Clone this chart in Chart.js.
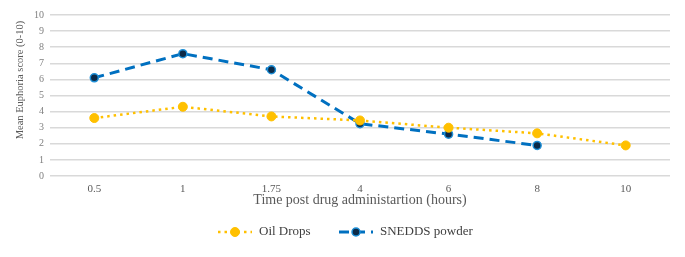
<!DOCTYPE html>
<html>
<head>
<meta charset="utf-8">
<script src="https://cdn.jsdelivr.net/npm/chart.js@4"></script>
<style>
  html, body { margin: 0; padding: 0; background: #fff; }
  #wrap { width: 685px; height: 257px; position: relative; }
</style>
</head>
<body>
<div id="wrap"><canvas id="c"></canvas></div>
<script>
const times = ["0.5", "1", "1.75", "4", "6", "8", "10"];
const oilDrops = [3.6, 4.3, 3.7, 3.45, 3.0, 2.65, 1.9];
const snedds = [6.1, 7.6, 6.6, 3.25, 2.6, 1.9, null];
const yTitle = "Mean Euphoria score (0-10)";

const yellow = "#FFC000";
const blue = "#0070C0";
const navy = "#0B2A48";

// legend and y title drawn by hand: legend items show dash + marker,
// and the y title sits a bit above the axis middle like the original
const extrasPlugin = {
    id: "extras",
    afterDraw(chart) {
        const ctx = chart.ctx;
        ctx.save();
        ctx.translate(20, 80);
        ctx.rotate(-Math.PI / 2);
        ctx.fillStyle = "#595959";
        ctx.font = "10.5px 'Liberation Serif'";
        ctx.textAlign = "center";
        ctx.textBaseline = "middle";
        ctx.fillText(yTitle, 0, 0);
        ctx.restore();

        const y = 232;
        const items = [
            { x: 218, text: "Oil Drops", ds: chart.data.datasets[0] },
            { x: 339, text: "SNEDDS powder", ds: chart.data.datasets[1] }
        ];
        ctx.save();
        items.forEach(it => {
            ctx.strokeStyle = it.ds.borderColor;
            ctx.lineWidth = it.ds.borderWidth;
            ctx.setLineDash(it.ds.borderDash);
            ctx.beginPath();
            ctx.moveTo(it.x, y);
            ctx.lineTo(it.x + 34, y);
            ctx.stroke();
            ctx.setLineDash([]);
            ctx.beginPath();
            ctx.arc(it.x + 17, y, it.ds.pointRadius, 0, Math.PI * 2);
            ctx.fillStyle = it.ds.pointBackgroundColor;
            ctx.fill();
            ctx.lineWidth = it.ds.pointBorderWidth;
            ctx.strokeStyle = it.ds.pointBorderColor;
            ctx.stroke();
            ctx.fillStyle = "#404040";
            ctx.font = "13px 'Liberation Serif'";
            ctx.textBaseline = "middle";
            ctx.fillText(it.text, it.x + 41, y);
        });
        ctx.restore();
    }
};

new Chart(document.getElementById("c"), {
    type: "line",
    data: {
        labels: times,
        datasets: [
            {
                label: "Oil Drops",
                data: oilDrops,
                borderColor: yellow,
                borderWidth: 2.5,
                borderDash: [2.5, 4],
                pointRadius: 4.5,
                pointBackgroundColor: yellow,
                pointBorderColor: yellow,
                pointBorderWidth: 1,
                tension: 0
            },
            {
                label: "SNEDDS powder",
                data: snedds,
                borderColor: blue,
                borderWidth: 3,
                borderDash: [10, 6],
                pointRadius: 4,
                pointBackgroundColor: navy,
                pointBorderColor: "#1E90D8",
                pointBorderWidth: 1.5,
                tension: 0
            }
        ]
    },
    options: {
        responsive: true,
        maintainAspectRatio: false,
        animation: false,
        layout: { padding: { left: 28, right: 15, top: 15, bottom: 50 } },
        plugins: {
            legend: { display: false },
            tooltip: { enabled: false }
        },
        scales: {
            x: {
                offset: true,
                grid: { display: false },
                border: { display: false },
                ticks: {
                    color: "#595959",
                    font: { family: "Liberation Serif", size: 11, lineHeight: 1 },
                    padding: 0
                },
                title: {
                    display: true,
                    text: "Time post drug administartion (hours)",
                    color: "#595959",
                    font: { family: "Liberation Serif", size: 14, lineHeight: 1 },
                    padding: { top: -2, bottom: 0 }
                }
            },
            y: {
                min: 0,
                max: 10,
                grid: { color: "#D9D9D9", lineWidth: 1.5, drawTicks: false },
                border: { display: false },
                ticks: {
                    stepSize: 1,
                    color: "#808080",
                    font: { family: "Liberation Serif", size: 10 },
                    padding: 6
                }
            }
        }
    },
    plugins: [extrasPlugin]
});
</script>
</body>
</html>
